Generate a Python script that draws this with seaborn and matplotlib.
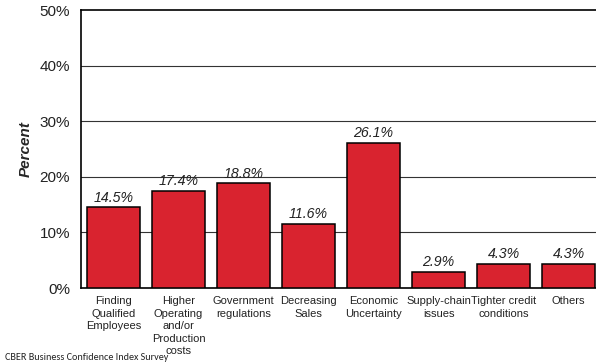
import matplotlib
matplotlib.use("Agg")
import matplotlib.pyplot as plt
import seaborn as sns
import pandas as pd
from matplotlib.ticker import FuncFormatter

categories = [
    "Finding\nQualified\nEmployees",
    "Higher\nOperating\nand/or\nProduction\ncosts",
    "Government\nregulations",
    "Decreasing\nSales",
    "Economic\nUncertainty",
    "Supply-chain\nissues",
    "Tighter credit\nconditions",
    "Others",
]
percent = [14.5, 17.4, 18.8, 11.6, 26.1, 2.9, 4.3, 4.3]
yticks = [0, 10, 20, 30, 40, 50]

df = pd.DataFrame({"category": categories, "percent": percent})

sns.set_theme(style="white")
plt.rcParams["font.family"] = ["Liberation Sans", "DejaVu Sans"]

fig = plt.figure(figsize=(5.96, 3.64), dpi=100)
ax = fig.add_axes([81 / 596, 76 / 364, 520 / 596, 278 / 364])

sns.barplot(data=df, x="category", y="percent", color="#D9232F",
            saturation=1, width=0.83, edgecolor="black", linewidth=1.1,
            ax=ax, zorder=3)

ax.set_ylim(0, 50)
ax.set_xlim(-0.5, len(categories) - 0.5)
ax.set_yticks(yticks)
ax.yaxis.set_major_formatter(FuncFormatter(lambda v, p: f"{v:.0f}%"))
for y in yticks[1:-1]:
    ax.axhline(y, color="#333333", linewidth=0.8, zorder=1)

for spine in ax.spines.values():
    spine.set_color("black")
    spine.set_linewidth(1.2)

ax.tick_params(axis="y", labelsize=11, length=0, pad=8, colors="#222222")
ax.tick_params(axis="x", labelsize=8.0, length=0, pad=6, colors="#222222")
for lbl in ax.get_xticklabels():
    lbl.set_linespacing(1.3)
ax.set_xlabel("")
ax.set_ylabel("Percent", fontsize=11, fontweight="bold", fontstyle="italic",
              labelpad=5)

for i, v in enumerate(percent):
    ax.text(i, v + 0.5, f"{v:.1f}%", ha="center", va="bottom",
            fontsize=10.2, fontstyle="italic", color="#222222")

fig.text(5 / 596, 1 - 357 / 364, "CBER Business Confidence Index Survey",
         fontsize=7.3, va="center", ha="left", color="#222222",
         family=["Carlito", "Liberation Sans", "DejaVu Sans"])

fig.savefig("out.png", dpi=100)
